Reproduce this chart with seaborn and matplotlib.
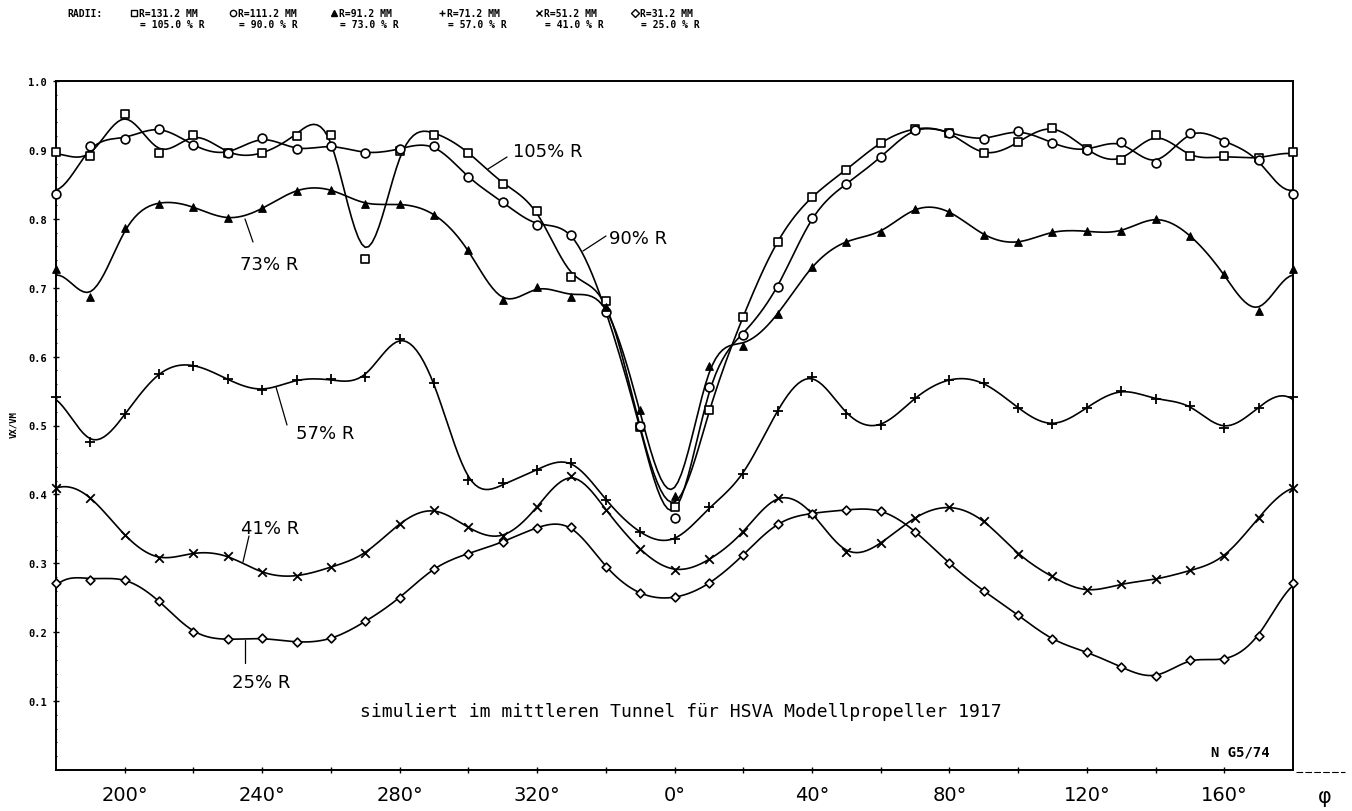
import numpy as np
import pandas as pd
import matplotlib
matplotlib.use("Agg")
import matplotlib.pyplot as plt
from matplotlib.lines import Line2D
import seaborn as sns

# Circumferential position, 180 deg -> 0 deg -> 180 deg, every 10 deg
phi = np.arange(-180, 181, 10)

# Axial wake fraction VX/VM at six radii
v_105 = [0.897, 0.891, 0.952, 0.896, 0.922, 0.896, 0.896, 0.920, 0.922, 0.741,
         0.898, 0.922, 0.896, 0.851, 0.811, 0.716, 0.680, 0.498, 0.382, 0.523,
         0.657, 0.767, 0.831, 0.871, 0.910, 0.930, 0.925, 0.895, 0.911, 0.932,
         0.901, 0.886, 0.921, 0.891, 0.891, 0.888, 0.897]
v_90 = [0.836, 0.905, 0.916, 0.931, 0.907, 0.896, 0.917, 0.901, 0.906, 0.896,
        0.901, 0.905, 0.860, 0.825, 0.791, 0.777, 0.665, 0.500, 0.366, 0.556,
        0.632, 0.701, 0.801, 0.850, 0.889, 0.929, 0.925, 0.916, 0.927, 0.910,
        0.900, 0.911, 0.881, 0.925, 0.911, 0.886, 0.836]
v_73 = [0.727, 0.686, 0.786, 0.822, 0.817, 0.801, 0.815, 0.841, 0.842, 0.822,
        0.821, 0.806, 0.755, 0.682, 0.701, 0.687, 0.672, 0.522, 0.397, 0.587,
        0.616, 0.662, 0.730, 0.767, 0.781, 0.814, 0.810, 0.777, 0.766, 0.781,
        0.782, 0.782, 0.800, 0.775, 0.720, 0.666, 0.727]
v_57 = [0.542, 0.476, 0.517, 0.575, 0.587, 0.567, 0.552, 0.566, 0.567, 0.571,
        0.626, 0.562, 0.421, 0.416, 0.435, 0.446, 0.392, 0.346, 0.335, 0.381,
        0.430, 0.521, 0.571, 0.517, 0.501, 0.540, 0.566, 0.561, 0.526, 0.502,
        0.526, 0.550, 0.538, 0.529, 0.497, 0.526, 0.542]
v_41 = [0.410, 0.395, 0.341, 0.308, 0.315, 0.310, 0.287, 0.282, 0.295, 0.315,
        0.357, 0.377, 0.352, 0.340, 0.381, 0.427, 0.377, 0.321, 0.291, 0.306,
        0.345, 0.395, 0.373, 0.317, 0.330, 0.366, 0.381, 0.361, 0.314, 0.281,
        0.261, 0.270, 0.277, 0.290, 0.311, 0.366, 0.410]
v_25 = [0.271, 0.276, 0.276, 0.245, 0.201, 0.190, 0.191, 0.186, 0.191, 0.216,
        0.250, 0.292, 0.314, 0.331, 0.351, 0.352, 0.295, 0.257, 0.251, 0.271,
        0.312, 0.357, 0.372, 0.377, 0.376, 0.346, 0.300, 0.260, 0.225, 0.190,
        0.171, 0.150, 0.136, 0.160, 0.161, 0.195, 0.271]

series_names = ["105", "90", "73", "57", "41", "25"]
series_vals = [v_105, v_90, v_73, v_57, v_41, v_25]

x_tick_pos = [-160, -120, -80, -40, 0, 40, 80, 120, 160]
x_tick_labels = ["200°", "240°", "280°", "320°", "0°", "40°", "80°", "120°", "160°"]
y_tick_vals = [0.1, 0.2, 0.3, 0.4, 0.5, 0.6, 0.7, 0.8, 0.9, 1.0]

radius_mm = ["131.2", "111.2", "91.2", "71.2", "51.2", "31.2"]
radius_pct = ["105.0", "90.0", "73.0", "57.0", "41.0", "25.0"]

marker_style = {
    "105": dict(marker="s", s=34, facecolor="white", edgecolor="black", linewidth=1.2),
    "90": dict(marker="o", s=40, facecolor="white", edgecolor="black", linewidth=1.2),
    "73": dict(marker="^", s=30, facecolor="black", edgecolor="black", linewidth=0.8),
    "57": dict(marker="+", s=55, color="black", linewidth=1.3),
    "41": dict(marker="x", s=38, color="black", linewidth=1.3),
    "25": dict(marker="D", s=20, facecolor="white", edgecolor="black", linewidth=1.2),
}


def periodic_smooth(pos_deg, values, lam=10.0):
    """Penalised (spline-like) smoother on a 1-degree periodic grid."""
    n = 360
    idx = (np.asarray(pos_deg[:-1]) + 180).astype(int)
    y = np.asarray(values[:-1], float)
    S = np.zeros((len(idx), n))
    S[np.arange(len(idx)), idx] = 1.0
    D = np.zeros((n, n))
    for j in range(n):
        D[j, (j - 1) % n] = 1.0
        D[j, j] = -2.0
        D[j, (j + 1) % n] = 1.0
    f = np.linalg.solve(S.T @ S + lam * D.T @ D, S.T @ y)
    xg = np.arange(-180, 181)
    return xg, np.append(f, f[0])


sns.set_theme(style="ticks")
plt.rcParams["font.family"] = ["DejaVu Sans"]
plt.rcParams["text.color"] = "black"
plt.rcParams["xtick.color"] = "black"
plt.rcParams["ytick.color"] = "black"

W, H = 1352, 812
fig = plt.figure(figsize=(W / 100, H / 100), dpi=100)
fig.patch.set_facecolor("white")
L, R, T, B = 56, 1293, 82, 771
ax = fig.add_axes([L / W, 1 - B / H, (R - L) / W, (B - T) / H])
ax.set_facecolor("white")

for name, vals in zip(series_names, series_vals):
    xg, yg = periodic_smooth(phi, vals)
    curve = pd.DataFrame({"phi": xg, "v": yg})
    sns.lineplot(data=curve, x="phi", y="v", ax=ax, color="black",
                 linewidth=1.2, estimator=None, sort=False)
    pts = pd.DataFrame({"phi": phi, "v": vals})
    sns.scatterplot(data=pts, x="phi", y="v", ax=ax, zorder=3, clip_on=False,
                    **marker_style[name])

ax.set_xlim(-180, 180)
ax.set_ylim(0, 1.0)
ax.set_xlabel("")
ax.set_ylabel("")

ax.set_xticks(x_tick_pos)
ax.set_xticklabels(x_tick_labels, fontsize=14, color="black")
ax.set_xticks(np.arange(-160, 161, 20), minor=True)
ax.set_yticks(y_tick_vals)
ax.set_yticklabels([f"{v:.1f}" for v in y_tick_vals],
                   fontfamily="DejaVu Sans Mono", fontweight="bold", fontsize=7.5)
ax.set_yticks(np.arange(0.02, 1.0, 0.02), minor=True)
ax.tick_params(axis="x", which="both", direction="inout", length=5, width=1,
               pad=8, colors="black")
ax.tick_params(axis="y", which="major", direction="inout", length=5, width=1,
               pad=4, colors="black")
ax.tick_params(axis="y", which="minor", direction="inout", length=2, width=0.8)
for sp in ax.spines.values():
    sp.set_color("black")
    sp.set_linewidth(1.4)

# Axis title and angle symbol
fig.text(14 / W, 1 - 425 / H, "VX/VM", rotation=90, ha="center", va="center",
         fontfamily="DejaVu Sans Mono", fontweight="bold", fontsize=6.5)
fig.text(1325 / W, 1 - 797 / H, "φ", ha="center", va="center", fontsize=15)
fig.add_artist(Line2D([1296 / W, 1345 / W], [1 - 773 / H, 1 - 773 / H],
                      transform=fig.transFigure, color="black", lw=0.8,
                      linestyle=(0, (6, 2))))

# Radius key across the top
row1, row2 = 1 - 14 / H, 1 - 25 / H
key_font = dict(fontfamily="DejaVu Sans Mono", fontweight="bold", fontsize=7)
fig.text(67 / W, row1, "RADII:", ha="left", va="center", **key_font)
key_x = [134, 233, 334, 442, 539, 635]
for kx, name, mm, pct in zip(key_x, series_names, radius_mm, radius_pct):
    st = marker_style[name]
    kw = dict(marker=st["marker"], linestyle="none", transform=fig.transFigure,
              markersize=4.5, markeredgewidth=1.0)
    if "facecolor" in st:
        kw.update(markerfacecolor=st["facecolor"], markeredgecolor="black")
    else:
        kw.update(color="black")
    fig.add_artist(Line2D([kx / W], [row1], **kw))
    fig.text((kx + 5) / W, row1, f"R={mm} MM", ha="left", va="center", **key_font)
    fig.text((kx + 6) / W, row2, f"= {pct} % R", ha="left", va="center", **key_font)


# Curve labels with leader lines, positioned in pixel space of the axes
def px(xp):
    return -180 + (xp - L) / (R - L) * 360


def py(yp):
    return (B - yp) / (B - T)


labels = [
    ("105% R", 548, 152, (507, 158), (488, 170)),
    ("90% R", 638, 239, (606, 237), (583, 252)),
    ("73% R", 269, 265, (253, 243), (245, 220)),
    ("57% R", 325, 434, (287, 426), (276, 388)),
    ("41% R", 270, 529, (249, 537), (243, 563)),
    ("25% R", 261, 683, (245, 641), (245, 664)),
]
for txt, tx, ty, p0, p1 in labels:
    ax.text(px(tx), py(ty), txt, ha="center", va="center", fontsize=13,
            color="black")
    ax.plot([px(p0[0]), px(p1[0])], [py(p0[1]), py(p1[1])], color="black", lw=0.9)

ax.text(px(681), py(712), "simuliert im mittleren Tunnel für HSVA Modellpropeller 1917",
        ha="center", va="center", fontfamily="DejaVu Sans Mono", fontsize=13,
        color="black")
ax.text(px(1240), py(753), "N G5/74", ha="center", va="center",
        fontfamily="DejaVu Sans Mono", fontweight="bold", fontsize=10, color="black")

fig.savefig("out.png", dpi=100, facecolor="white")
